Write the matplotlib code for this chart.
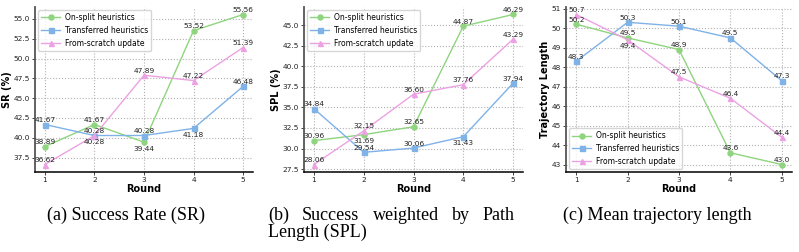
import matplotlib.pyplot as plt

# data
rounds = [1, 2, 3, 4, 5]
series_names = ["On-split heuristics", "Transferred heuristics", "From-scratch update"]

sr_onsplit = [38.89, 41.67, 39.44, 53.52, 55.56]
sr_transfer = [41.67, 40.28, 40.28, 41.18, 46.48]
sr_scratch = [36.62, 40.28, 47.89, 47.22, 51.39]

spl_onsplit = [30.96, 31.69, 32.65, 44.87, 46.29]
spl_transfer = [34.84, 29.54, 30.06, 31.43, 37.94]
spl_scratch = [28.06, 32.15, 36.60, 37.76, 43.29]

len_onsplit = [50.2, 49.5, 48.9, 43.6, 43.0]
len_transfer = [48.3, 50.3, 50.1, 49.5, 47.3]
len_scratch = [50.7, 49.4, 47.5, 46.4, 44.4]

colors = ["#8fd47f", "#7fb2e6", "#eca2e2"]
markers = ["o", "s", "^"]

W, H = 799, 252
fig = plt.figure(figsize=(W / 100, H / 100), dpi=100)


def rect(l, r, t, b):
    return [l / W, 1 - b / H, (r - l) / W, (b - t) / H]


def panel(box, data, fmt, ylabel, yticks, below, legend_loc):
    ax = fig.add_axes(rect(*box))
    for i, vals in enumerate(data):
        ax.plot(rounds, vals, color=colors[i], marker=markers[i], markersize=3.6,
                linewidth=1.0, label=series_names[i])
        for j, v in enumerate(vals):
            if (i, j) in below:
                ax.annotate(fmt.format(v), (rounds[j], v), xytext=(0, -2.5),
                            textcoords="offset points", ha="center", va="top",
                            fontsize=5.3, color="#222222")
            else:
                ax.annotate(fmt.format(v), (rounds[j], v), xytext=(0, 1.0),
                            textcoords="offset points", ha="center", va="bottom",
                            fontsize=5.3, color="#222222")
    ax.set_xticks(rounds)
    ax.set_yticks(yticks)
    ax.grid(True, linestyle=":", color="#b0b0b0", linewidth=0.8)
    ax.set_axisbelow(True)
    for s in ["top", "right"]:
        ax.spines[s].set_visible(False)
    ax.spines["left"].set_linewidth(1.3)
    ax.spines["left"].set_color("#555555")
    ax.spines["bottom"].set_linewidth(1.1)
    ax.tick_params(labelsize=5.3, length=2, width=0.6, pad=1.5, colors="#222222")
    ax.set_xlabel("Round", fontsize=7, fontweight="bold", labelpad=1)
    ax.set_ylabel(ylabel, fontsize=7, fontweight="bold", labelpad=1)
    ax.legend(loc=legend_loc, fontsize=5.5, handlelength=2.5, handletextpad=0.6,
              borderaxespad=0.4, labelspacing=0.5, framealpha=0.8)
    return ax


panel((35, 253, 7, 172), [sr_onsplit, sr_transfer, sr_scratch], "{:.2f}", "SR (%)",
      [37.5, 40.0, 42.5, 45.0, 47.5, 50.0, 52.5, 55.0],
      {(0, 2), (1, 3), (2, 1)}, "upper left")
panel((304, 523, 7, 172), [spl_onsplit, spl_transfer, spl_scratch], "{:.2f}", "SPL (%)",
      [27.5, 30.0, 32.5, 35.0, 37.5, 40.0, 42.5, 45.0],
      {(0, 1), (1, 3)}, "upper left")
panel((566, 792, 7, 172), [len_onsplit, len_transfer, len_scratch], "{:.1f}", "Trajectory Length",
      [43, 44, 45, 46, 47, 48, 49, 50, 51],
      {(2, 1)}, "lower left")

# captions
cap = dict(family="Liberation Serif", fontsize=13, va="center")
fig.text(126 / W, 1 - 215 / H, "(a) Success Rate (SR)", ha="center", **cap)
fig.text(657 / W, 1 - 215 / H, "(c) Mean trajectory length", ha="center", **cap)

# justified first line of caption (b)
words = ["(b)", "Success", "weighted", "by", "Path"]
x0, x1 = 268, 515
texts = [fig.text(0, 1 - 215 / H, w, ha="left", **cap) for w in words]
renderer = fig.canvas.get_renderer()
widths = [t.get_window_extent(renderer).width for t in texts]
gap = (x1 - x0 - sum(widths)) / (len(words) - 1)
x = x0
for t, w in zip(texts, widths):
    t.set_x(x / W)
    x += w + gap
fig.text(x0 / W, 1 - 232 / H, "Length (SPL)", ha="left", **cap)

fig.savefig("out.png", dpi=100)
